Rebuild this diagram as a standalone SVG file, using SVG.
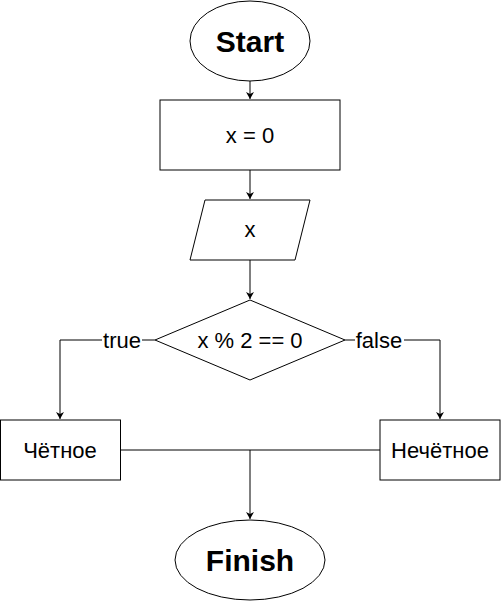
<svg xmlns="http://www.w3.org/2000/svg" width="501" height="601" viewBox="0 0 501 601">
<style>
.shape{fill:#ffffff;stroke:#000000;stroke-width:1}
.edge{fill:none;stroke:#000000;stroke-width:1}
.t{font-family:"Liberation Sans",Arial,sans-serif;font-size:22px;fill:#000000;text-anchor:middle}
.b{font-family:"Liberation Sans",Arial,sans-serif;font-size:30px;font-weight:bold;fill:#000000;text-anchor:middle}
.lbl{fill:#ffffff;stroke:none}
</style>
<defs>
<marker id="arr" markerWidth="8" markerHeight="10" refX="7" refY="4" orient="auto" markerUnits="userSpaceOnUse">
<path d="M0,0 L7,4 L0,8 L2,4 Z" fill="#000000"/>
</marker>
</defs>
<rect width="501" height="601" fill="#ffffff"/>
<g id="connectors">
<path class="edge" d="M250,81 V99" marker-end="url(#arr)"/>
<path class="edge" d="M250,170 V199" marker-end="url(#arr)"/>
<path class="edge" d="M250,260 V299" marker-end="url(#arr)"/>
<path class="edge" d="M155,340 H60 V419" marker-end="url(#arr)"/>
<path class="edge" d="M345,340 H440 V419" marker-end="url(#arr)"/>
<path class="edge" d="M120,450 H250 V519" marker-end="url(#arr)"/>
<path class="edge" d="M380,450 H250"/>
<rect class="lbl" x="102" y="329" width="40" height="22"/>
<text class="t" x="122" y="348">true</text>
<rect class="lbl" x="355" y="329" width="49" height="22"/>
<text class="t" x="379" y="348">false</text>
</g>
<g id="start">
<ellipse class="shape" cx="250" cy="41" rx="60" ry="40"/>
<text class="b" x="250" y="52">Start</text>
</g>
<g id="init">
<rect class="shape" x="160" y="100" width="180" height="70"/>
<text class="t" x="250" y="143">x = 0</text>
</g>
<g id="input">
<polygon class="shape" points="190,260 205,200 310,200 295,260"/>
<text class="t" x="250" y="237">x</text>
</g>
<g id="decision">
<polygon class="shape" points="250,300 345,340 250,380 155,340"/>
<text class="t" x="250" y="348">x % 2 == 0</text>
</g>
<g id="even">
<rect class="shape" x="0.5" y="420" width="120" height="60"/>
<text class="t" x="60" y="458">Чётное</text>
</g>
<g id="odd">
<rect class="shape" x="380" y="420" width="120" height="60"/>
<text class="t" x="440" y="458">Нечётное</text>
</g>
<g id="finish">
<ellipse class="shape" cx="250" cy="560" rx="75" ry="40"/>
<text class="b" x="250" y="571">Finish</text>
</g>
</svg>
